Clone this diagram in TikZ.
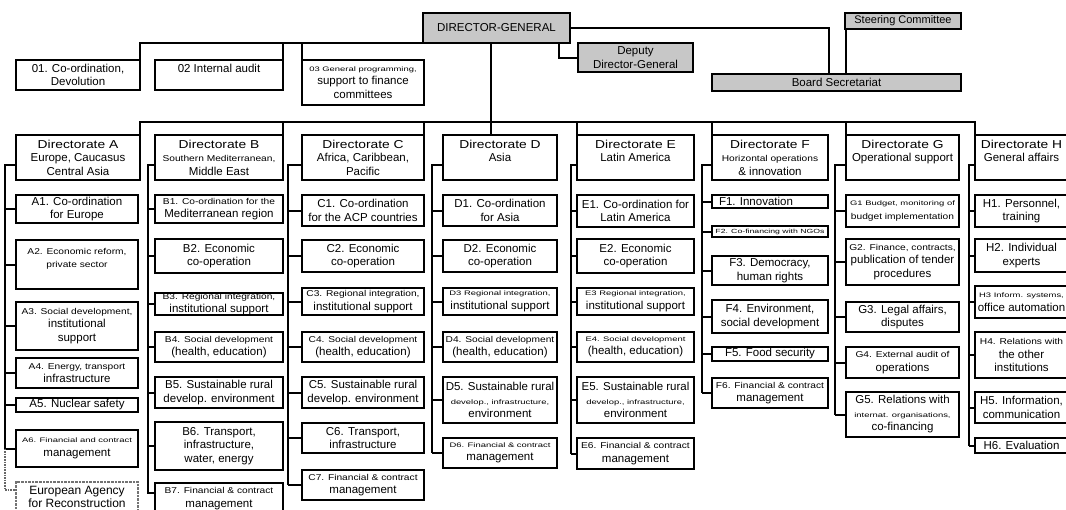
\documentclass[tikz,border=0pt]{standalone}
\usepackage{fontspec}
\setmainfont{Liberation Sans}
\newfontfamily\wideA[FakeStretch=1.2]{Liberation Sans}
\newfontfamily\wideB[FakeStretch=1.45]{Liberation Sans}
\newcommand\fmed{\wideA\fontsize{8.5}{11}\selectfont}
\newcommand\fsml{\wideB\fontsize{6.5}{9}\selectfont}
\newcommand\fhead{\wideA\fontsize{11.5}{13.5}\selectfont}
\newcommand\obox[7][]{\node[obx,#1,minimum width={#4-#2},minimum height={#5-#3}] (#6) at ({(#2+#4)/2},{(#3+#5)/2}) {#7};}
\begin{document}
\begin{tikzpicture}[x=1pt,y=-1pt,
  obx/.style={draw,line width=2.6pt,inner sep=0pt,outer sep=0pt,align=center,font=\fontsize{11.5}{13.5}\selectfont},
  conn/.style={line width=2pt,line join=miter},
  shd/.style={fill=black!22},
  thinbox/.style={line width=1.2pt},
  ear/.style={draw=black!55,densely dotted,line width=2pt,font=\fontsize{12}{13.5}\selectfont}]
\useasboundingbox (0,0) rectangle (1066,509);
\clip (0,0) rectangle (1066,509);
\fill[white] (0,0) rectangle (1066,509);

% top level
\obox[shd]{423}{13}{570}{43}{DG}{DIRECTOR-GENERAL}
\obox[shd]{578}{43}{693}{72}{DDG}{Deputy\\Director-General}
\obox[shd,font=\fontsize{11}{12}\selectfont]{845}{13}{961}{29}{SC}{Steering Committee}
\obox[shd]{712}{74}{961}{91}{BS}{Board Secretariat}
\obox{16}{60}{140}{90}{O1}{01. Co-ordination,\\Devolution}
\obox{155}{60}{283}{90}{O2}{02 Internal audit\\\mbox{}}
\obox{302}{60}{424}{105}{O3}{{\fsml 03 General programming,}\\support to finance\\committees}

% directorates
\obox{16}{135}{140}{180}{dA}{{\fhead Directorate A}\\Europe, Caucasus\\Central Asia}
\obox{155}{135}{283}{180}{dB}{{\fhead Directorate B}\\{\fmed Southern Mediterranean,}\\Middle East}
\obox{302}{135}{424}{180}{dC}{{\fhead Directorate C}\\Africa, Caribbean,\\Pacific}
\obox{443}{135}{557}{180}{dD}{{\fhead Directorate D}\\Asia\\\mbox{}}
\obox{577}{135}{694}{180}{dE}{{\fhead Directorate E}\\Latin America\\\mbox{}}
\obox{712}{135}{828}{180}{dF}{{\fhead Directorate F}\\{\fmed Horizontal operations}\\\& innovation}
\obox{846}{135}{959}{180}{dG}{{\fhead Directorate G}\\Operational support\\\mbox{}}
\obox{975}{135}{1068}{180}{dH}{{\fhead Directorate H}\\General affairs\\\mbox{}}

% A
\obox{16}{195}{138}{223}{A1}{A1. Co-ordination\\for Europe}
\obox{16}{240}{138}{289}{A2}{{\fmed A2. Economic reform,}\\{\fmed private sector}\\\mbox{}}
\obox{16}{302}{138}{350}{A3}{{\fmed A3. Social development,}\\institutional\\support}
\obox{16}{358}{138}{388}{A4}{{\fmed A4. Energy, transport}\\infrastructure}
\obox{16}{398}{138}{412}{A5}{A5. Nuclear safety}
\obox{16}{430}{138}{467}{A6}{{\fsml A6. Financial and contract}\\management}
\obox[ear]{16}{482}{138}{512}{EAR}{European Agency\\for Reconstruction}
% B
\obox{155}{195}{283}{223}{B1}{{\fmed B1. Co-ordination for the}\\Mediterranean region}
\obox{155}{239}{283}{273}{B2}{B2. Economic\\co-operation}
\obox{155}{293}{283}{315}{B3}{{\fmed B3. Regional integration,}\\institutional support}
\obox{155}{332}{283}{362}{B4}{{\fmed B4. Social development}\\(health, education)}
\obox{155}{377}{283}{408}{B5}{B5. Sustainable rural\\develop. environment}
\obox{155}{422}{283}{470}{B6}{B6. Transport,\\infrastructure,\\water, energy}
\obox{155}{483}{283}{525}{B7}{{\fmed B7. Financial \& contract}\\management\\\mbox{}}
% C
\obox{302}{195}{424}{226}{C1}{C1. Co-ordination\\for the ACP countries}
\obox{302}{240}{424}{272}{C2}{C2. Economic\\co-operation}
\obox{302}{288}{424}{315}{C3}{{\fmed C3. Regional integration,}\\institutional support}
\obox{302}{332}{424}{362}{C4}{{\fmed C4. Social development}\\(health, education)}
\obox{302}{377}{424}{408}{C5}{C5. Sustainable rural\\develop. environment}
\obox{302}{423}{424}{453}{C6}{C6. Transport,\\infrastructure}
\obox{302}{470}{424}{500}{C7}{{\fmed C7. Financial \& contract}\\management}
% D
\obox{443}{195}{557}{226}{D1}{D1. Co-ordination\\for Asia}
\obox{443}{240}{557}{272}{D2}{D2. Economic\\co-operation}
\obox{443}{288}{557}{315}{D3}{{\fsml D3 Regional integration,}\\institutional support}
\obox{443}{332}{557}{362}{D4}{{\fmed D4. Social development}\\(health, education)}
\obox{443}{377}{557}{423}{D5}{D5. Sustainable rural\\{\fsml develop., infrastructure,}\\environment}
\obox{443}{438}{557}{468}{D6}{{\fsml D6. Financial \& contract}\\management}
% E
\obox{577}{195}{694}{227}{E1}{E1. Co-ordination for\\Latin America}
\obox{577}{239}{694}{273}{E2}{E2. Economic\\co-operation}
\obox{577}{288}{694}{315}{E3}{{\fsml E3 Regional integration,}\\institutional support}
\obox{577}{332}{694}{362}{E4}{{\fsml E4. Social development}\\(health, education)}
\obox{577}{377}{694}{423}{E5}{E5. Sustainable rural\\{\fsml develop., infrastructure,}\\environment}
\obox{577}{438}{694}{469}{E6}{{\fmed E6. Financial \& contract}\\management}
% F
\obox{712}{195}{828}{208}{F1}{F1. Innovation\hspace*{28pt}}
\obox[thinbox]{712}{226}{828}{237}{F2}{{\wideB\fontsize{6}{8}\selectfont F2. Co-financing with NGOs}}
\obox{712}{256}{828}{285}{F3}{F3. Democracy,\\human rights}
\obox{712}{300}{828}{333}{F4}{F4. Environment,\\social development}
\obox{712}{347}{828}{361}{F5}{F5. Food security}
\obox{712}{378}{828}{408}{F6}{{\fmed F6. Financial \& contract}\\management}
% G
\obox{846}{195}{959}{227}{G1}{{\fsml G1 Budget, monitoring of}\\{\fmed budget implementation}}
\obox{846}{239}{959}{285}{G2}{{\fmed G2. Finance, contracts,}\\publication of tender\\procedures}
\obox{846}{302}{959}{332}{G3}{G3. Legal affairs,\\disputes}
\obox{846}{347}{959}{378}{G4}{{\fmed G4. External audit of}\\operations}
\obox{846}{392}{959}{437}{G5}{G5. Relations with\\{\fsml internat. organisations,}\\co-financing}
% H
\obox{975}{195}{1068}{227}{H1}{H1. Personnel,\\training}
\obox{975}{239}{1068}{272}{H2}{H2. Individual\\experts}
\obox{975}{286}{1068}{318}{H3}{{\fsml H3 Inform. systems,}\\office automation}
\obox{975}{332}{1068}{378}{H4}{{\fmed H4. Relations with}\\the other\\institutions}
\obox{975}{392}{1068}{423}{H5}{H5. Information,\\communication}
\obox{975}{438}{1068}{453}{H6}{H6. Evaluation}

% helper coordinates
\coordinate (bar) at (0,122);
\coordinate (mv) at (491,0);
\coordinate (sA) at (5,165);
\coordinate (sB) at (148,165);
\coordinate (sC) at (288,165);
\coordinate (sD) at (432,165);
\coordinate (sE) at (571,165);
\coordinate (sF) at (702,165);
\coordinate (sG) at (835,165);
\coordinate (sH) at (969,165);
\coordinate (B7t) at ([yshift=11pt]B7.west);
\coordinate (EARt) at ([yshift=7pt]EAR.west);

% top connectors
\draw[conn] (DG.south west) -- (O1.north east |- DG.south west) -- (O1.north east);
\draw[conn] (O2.north east |- DG.south west) -- (O2.north east);
\draw[conn] (O3.north west |- DG.south west) -- (O3.north west);
\draw[conn] ([xshift=-11pt]DG.south east) |- (DDG.west);
\draw[conn] (DG.east) -| ([xshift=-8pt]BS.north);
\draw[conn] ([xshift=1pt]SC.south west) -- ([xshift=1pt]SC.south west |- BS.north);
\draw[conn] (DG.south -| mv) -- (dD.north -| mv);

% directorate bar
\draw[conn] (dA.north east) -- (dA.north east |- bar) -- (dH.north west |- bar) -- (dH.north west);
\draw[conn] (dB.north east |- bar) -- (dB.north east);
\draw[conn] (dC.north east |- bar) -- (dC.north east);
\foreach \d in {dE,dF,dG} \draw[conn] (\d.north west |- bar) -- (\d.north west);

% sub-lines
\draw[conn] (dA.west |- sA) -- (sA) -- (sA |- A6.west);
\foreach \k in {A1,A2,A3,A4,A5,A6} \draw[conn] (sA |- \k.west) -- (\k.west);
\draw[line width=1.6pt,densely dotted,draw=black!60] (sA |- A6.west) -- (sA |- EARt) -- (EARt);

\draw[conn] (dB.west |- sB) -- (sB) -- (sB |- B7t) -- (B7t);
\foreach \k in {B1,B2,B3,B4,B5,B6} \draw[conn] (sB |- \k.west) -- (\k.west);

\draw[conn] (dC.west |- sC) -- (sC) -- (sC |- C7.west);
\foreach \k in {C1,C2,C3,C4,C5,C6,C7} \draw[conn] (sC |- \k.west) -- (\k.west);

\draw[conn] (dD.west |- sD) -- (sD) -- (sD |- D6.west);
\foreach \k in {D1,D2,D3,D4,D5,D6} \draw[conn] (sD |- \k.west) -- (\k.west);

\draw[conn] (dE.west |- sE) -- (sE) -- (sE |- E6.west);
\foreach \k in {E1,E2,E3,E4,E5,E6} \draw[conn] (sE |- \k.west) -- (\k.west);

\draw[conn] (dF.west |- sF) -- (sF) -- (sF |- F6.west);
\foreach \k in {F1,F2,F3,F4,F5,F6} \draw[conn] (sF |- \k.west) -- (\k.west);

\draw[conn] (dG.west |- sG) -- (sG) -- (sG |- G5.west);
\foreach \k in {G1,G2,G3,G4,G5} \draw[conn] (sG |- \k.west) -- (\k.west);

\draw[conn] (dH.west |- sH) -- (sH) -- (sH |- H6.west);
\foreach \k in {H1,H2,H3,H4,H5,H6} \draw[conn] (sH |- \k.west) -- (\k.west);
\end{tikzpicture}
\end{document}
